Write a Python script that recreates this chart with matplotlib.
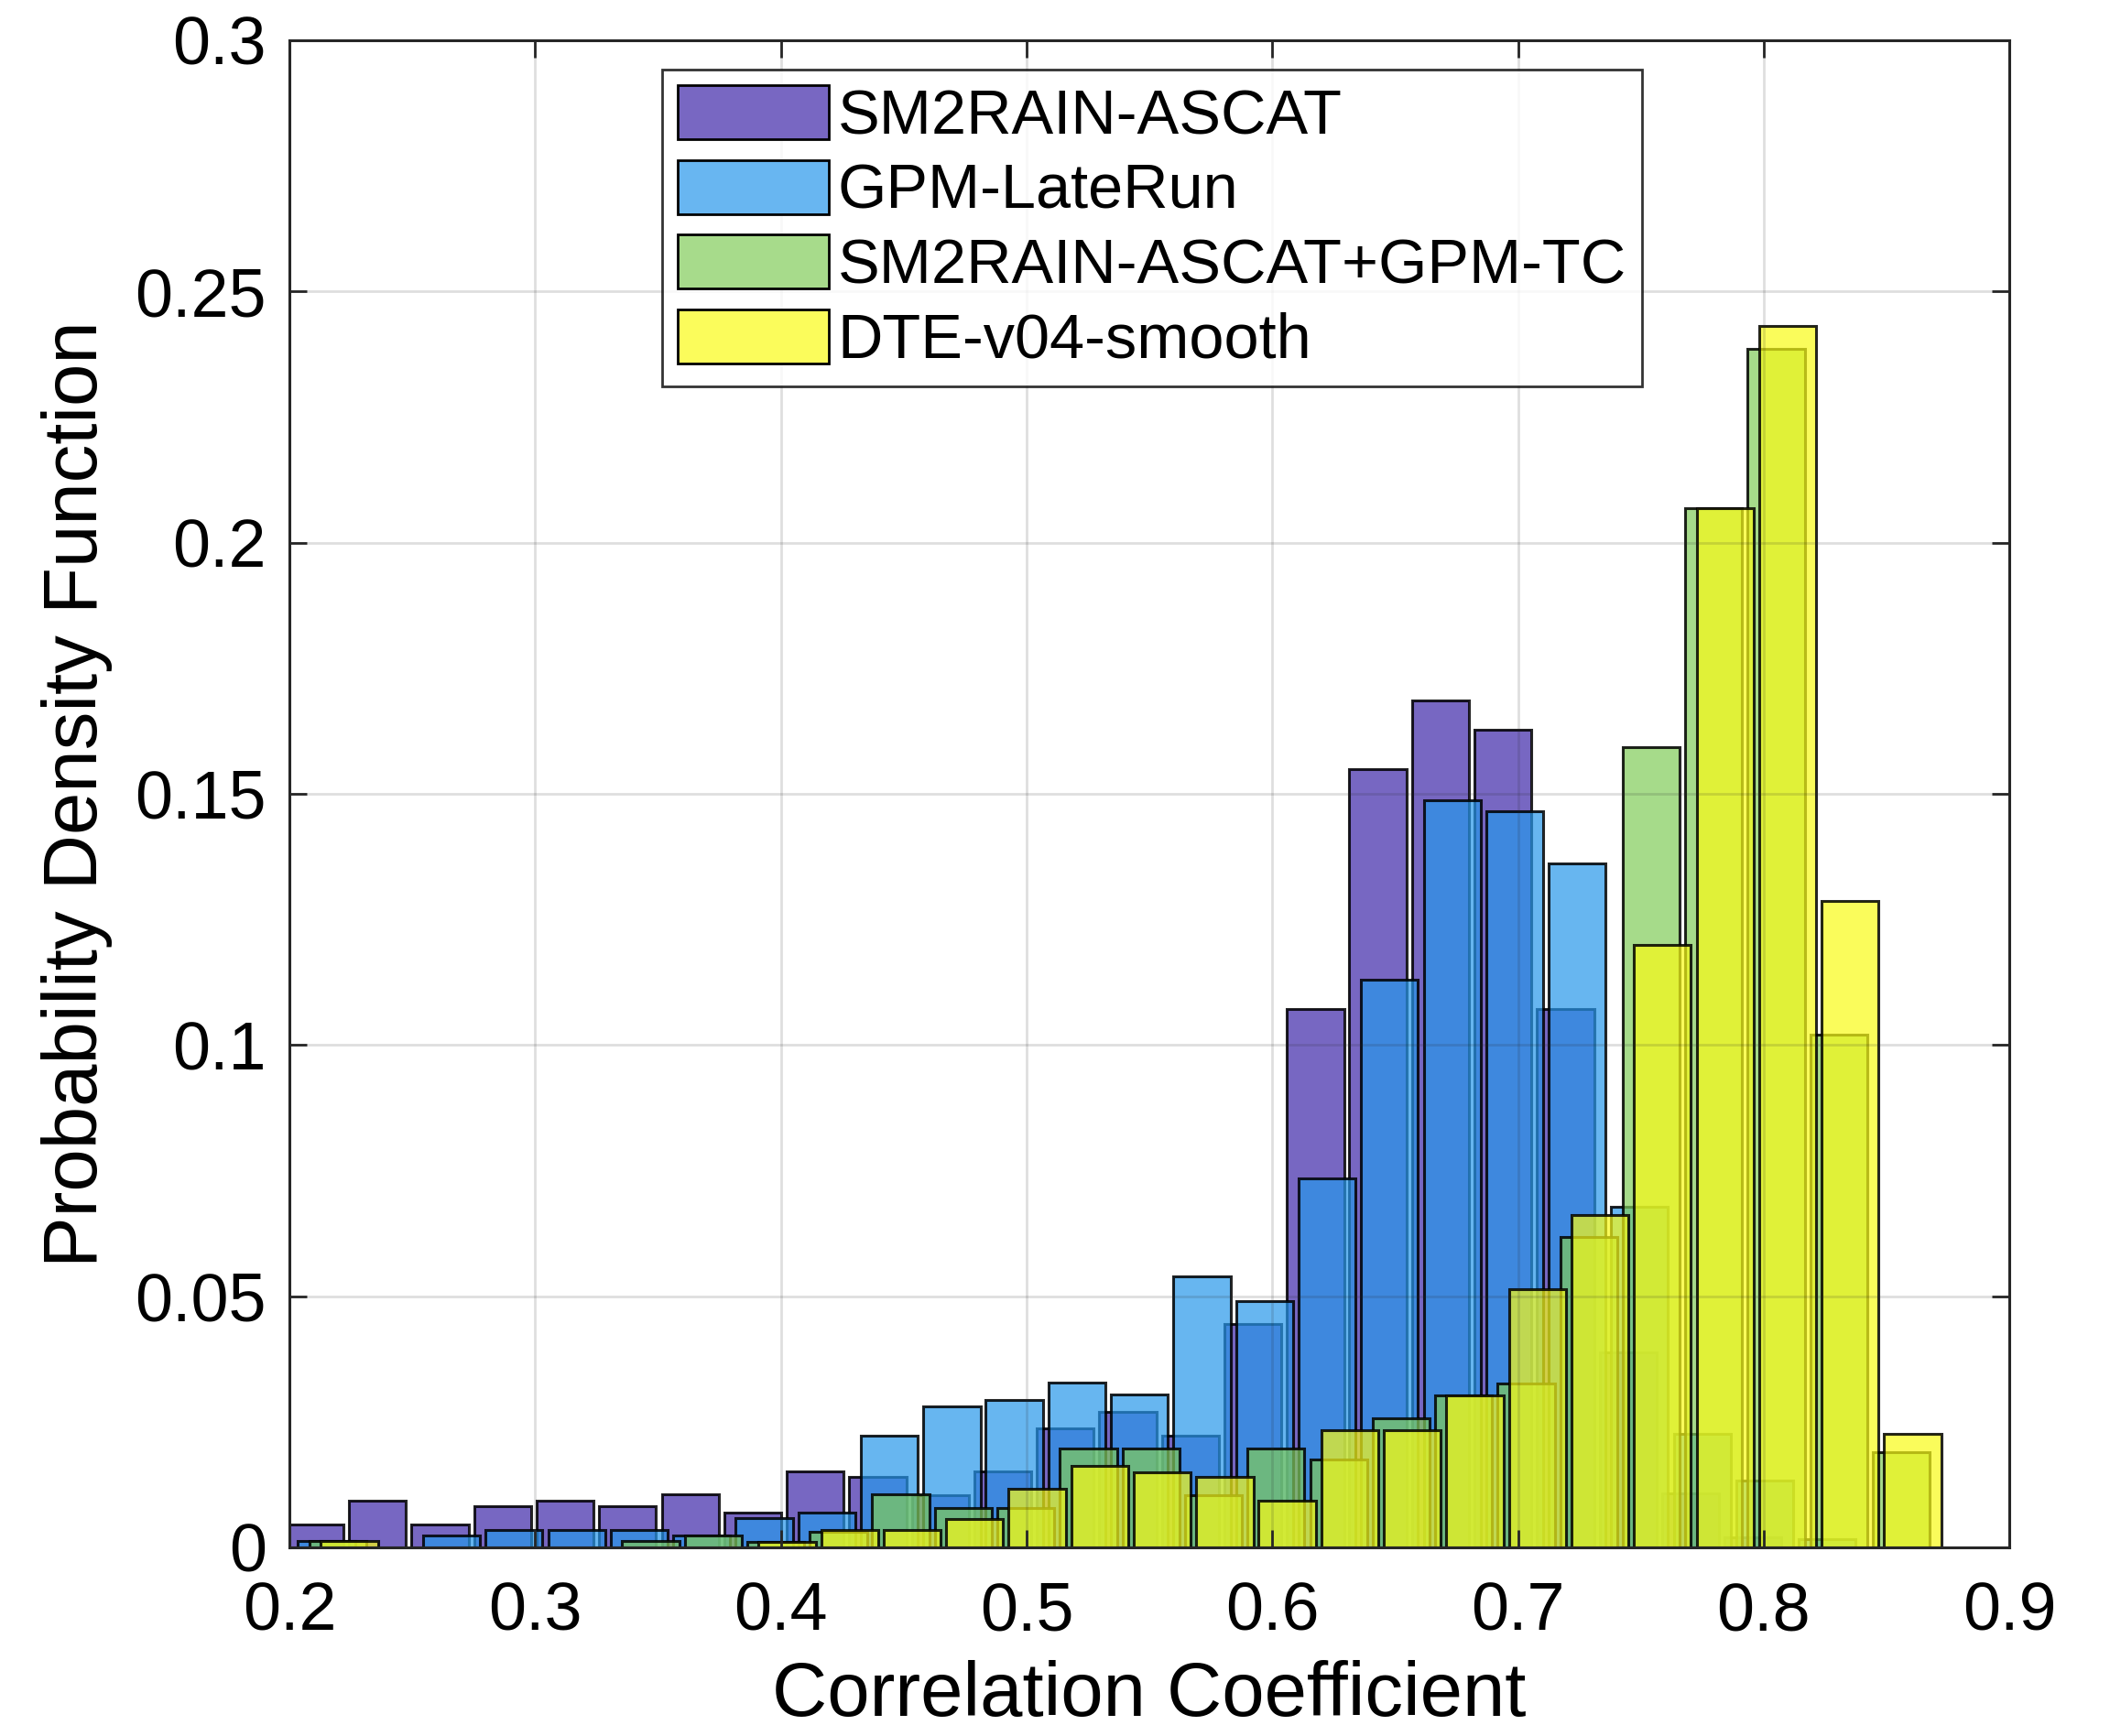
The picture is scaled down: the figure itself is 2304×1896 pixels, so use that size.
import numpy as np
import matplotlib
matplotlib.use("Agg")
import matplotlib.pyplot as plt
from matplotlib.patches import Patch

# ---- data ----
series_names = ["SM2RAIN-ASCAT", "GPM-LateRun", "SM2RAIN-ASCAT+GPM-TC", "DTE-v04-smooth"]
bin_centers = [0.2104, 0.2358, 0.2613, 0.2867, 0.3122, 0.3376, 0.3631, 0.3885,
               0.4140, 0.4394, 0.4649, 0.4903, 0.5158, 0.5412, 0.5667, 0.5921,
               0.6176, 0.6430, 0.6685, 0.6939, 0.7194, 0.7448, 0.7703, 0.7957,
               0.8212, 0.8466]
series_shift = [0.0, 0.0047, 0.0094, 0.0140]
sm2rain_ascat = [0.0046, 0.0093, 0.0046, 0.0082, 0.0093, 0.0081, 0.0105, 0.0070,
                 0.0152, 0.0140, 0.0104, 0.0152, 0.0236, 0.0270, 0.0223, 0.0445,
                 0.1072, 0.1550, 0.1686, 0.1628, 0.1072, 0.0388, 0.0107, 0.0020,
                 0.0, 0.0]
gpm_laterun = [0.0012, 0.0, 0.0023, 0.0035, 0.0035, 0.0035, 0.0023, 0.0058,
               0.0070, 0.0223, 0.0280, 0.0293, 0.0328, 0.0305, 0.0540, 0.0490,
               0.0734, 0.1130, 0.1488, 0.1465, 0.1361, 0.0678, 0.0226, 0.0132,
               0.0017, 0.0]
sm2rain_gpm_tc = [0.0012, 0.0, 0.0, 0.0, 0.0, 0.0012, 0.0023, 0.0010,
                  0.0030, 0.0105, 0.0079, 0.0079, 0.0196, 0.0196, 0.0104, 0.0197,
                  0.0175, 0.0257, 0.0302, 0.0326, 0.0618, 0.1593, 0.2068, 0.2385,
                  0.1020, 0.0190]
dte_v04_smooth = [0.0012, 0.0, 0.0, 0.0, 0.0, 0.0, 0.0, 0.0011,
                  0.0035, 0.0034, 0.0056, 0.0116, 0.0162, 0.0149, 0.0140, 0.0093,
                  0.0234, 0.0234, 0.0302, 0.0514, 0.0662, 0.1199, 0.2068, 0.2431,
                  0.1287, 0.0226]
x_ticks = [0.2, 0.3, 0.4, 0.5, 0.6, 0.7, 0.8, 0.9]
x_tick_labels = ["0.2", "0.3", "0.4", "0.5", "0.6", "0.7", "0.8", "0.9"]
y_ticks = [0, 0.05, 0.1, 0.15, 0.2, 0.25, 0.3]
y_tick_labels = ["0", "0.05", "0.1", "0.15", "0.2", "0.25", "0.3"]

colors = [(0.2422, 0.1504, 0.6603), (0.1540, 0.5902, 0.9218),
          (0.5044, 0.7993, 0.3480), (0.9769, 0.9839, 0.0805)]

plt.rcParams['font.family'] = ['Liberation Sans', 'DejaVu Sans']

fig = plt.figure(figsize=(23.04, 18.96), dpi=100)
ax = fig.add_axes([0.1372, 0.1087, 0.8151, 0.8681])

all_series = [sm2rain_ascat, gpm_laterun, sm2rain_gpm_tc, dte_v04_smooth]
centers = np.array(bin_centers)
for vals, name, col, sh in zip(all_series, series_names, colors, series_shift):
    v = np.array(vals)
    m = v > 0
    ax.bar(centers[m] + sh, v[m], width=0.0232, color=col, alpha=0.7,
           edgecolor='none', label=name, zorder=2)
    ax.bar(centers[m] + sh, v[m], width=0.0232, facecolor='none',
           edgecolor=(0, 0, 0, 0.85), linewidth=2.2, zorder=2)

ax.set_xlim(0.2, 0.9)
ax.set_ylim(0, 0.3)
ax.set_xticks(x_ticks)
ax.set_xticklabels(x_tick_labels)
ax.set_yticks(y_ticks)
ax.set_yticklabels(y_tick_labels)
ax.tick_params(axis='both', which='both', direction='in', length=14, width=2,
               top=True, right=True, labelsize=53, color=(0.15, 0.15, 0.15))
ax.tick_params(axis='x', pad=26)
ax.tick_params(axis='y', pad=18)
ax.grid(True, color=(0.15, 0.15, 0.15), alpha=0.15, linewidth=2)
ax.set_axisbelow(False)
for s in ax.spines.values():
    s.set_linewidth(2.2)
    s.set_color((0.15, 0.15, 0.15))
    s.set_zorder(5)

ax.set_xlabel("Correlation Coefficient", fontsize=60, labelpad=13)
ax.set_ylabel("Probability Density Function", fontsize=60, labelpad=18)

handles = []
for c in colors:
    rgb = tuple(0.3 + 0.7 * np.array(c))
    handles.append(Patch(facecolor=rgb, edgecolor='black', linewidth=2))
leg = ax.legend(handles, series_names, loc='upper left', bbox_to_anchor=(0.2167, 0.9805),
                fontsize=49.3, frameon=True, fancybox=False, edgecolor='black',
                handlelength=2.4, handleheight=0.95, handletextpad=0.15,
                labelspacing=0.21, borderpad=0.25, borderaxespad=0)
leg.get_frame().set_linewidth(2)
leg.set_zorder(10)

fig.savefig("out.png", dpi=100, facecolor='white')
